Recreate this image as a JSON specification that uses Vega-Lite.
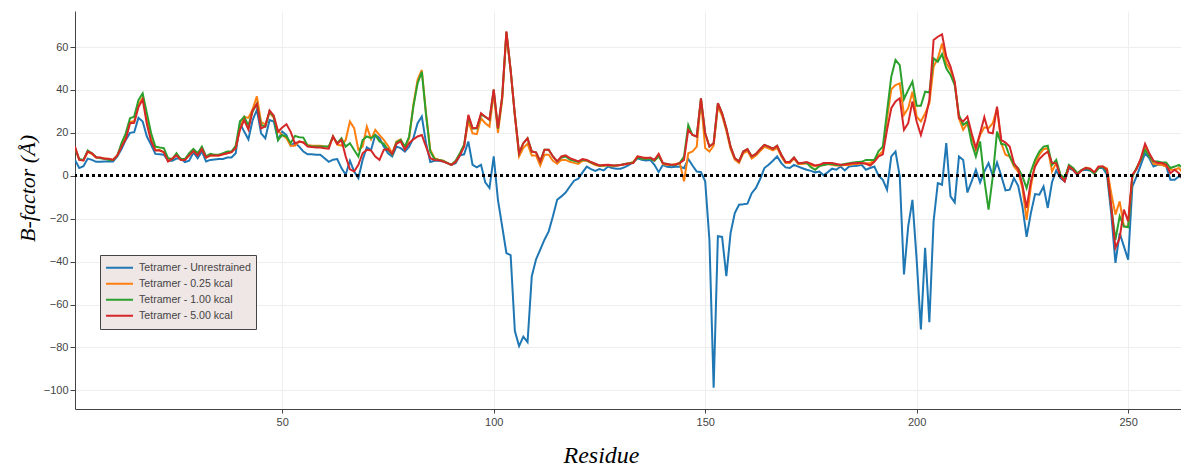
{
"$schema": "https://vega.github.io/schema/vega-lite/v6.json",
"width": 1106, "height": 398,
"autosize": {"type": "none"},
"padding": {"left": 75, "top": 11, "right": 0, "bottom": 57},
"config": {"view": {"stroke": null}, "font": "Liberation Sans"},
"data": {"values": [
{"r":1,"u":7.4,"a":13,"b":12.9,"c":13.6},
{"r":2,"u":3.6,"a":7.5,"b":7.8,"c":7.4},
{"r":3,"u":4.5,"a":7.2,"b":7.4,"c":7.2},
{"r":4,"u":8,"a":11,"b":11.8,"c":11.3},
{"r":5,"u":7.4,"a":10.2,"b":10.5,"c":10.5},
{"r":6,"u":6.5,"a":8.5,"b":8.7,"c":8.5},
{"r":7,"u":6.5,"a":8.3,"b":8.2,"c":8.5},
{"r":8,"u":6.7,"a":8,"b":7.9,"c":7.9},
{"r":9,"u":6.7,"a":7.8,"b":7.4,"c":7.9},
{"r":10,"u":6.7,"a":7.5,"b":7.4,"c":7.4},
{"r":11,"u":9,"a":9.5,"b":9.3,"c":9.5},
{"r":12,"u":12.5,"a":14,"b":15.2,"c":13.5},
{"r":13,"u":16.7,"a":18,"b":19.8,"c":17},
{"r":14,"u":20,"a":25,"b":26.8,"c":24.5},
{"r":15,"u":20.3,"a":25.5,"b":27.6,"c":24.7},
{"r":16,"u":27,"a":33,"b":35.3,"c":32},
{"r":17,"u":25.3,"a":36.5,"b":38.4,"c":35.5},
{"r":18,"u":18.3,"a":27,"b":29.1,"c":24},
{"r":19,"u":14.4,"a":17,"b":19.8,"c":16},
{"r":20,"u":10.2,"a":12,"b":13.6,"c":11.8},
{"r":21,"u":10,"a":12,"b":13.2,"c":11.8},
{"r":22,"u":9.8,"a":11,"b":12.9,"c":11},
{"r":23,"u":7,"a":7,"b":8.2,"c":6.7},
{"r":24,"u":7,"a":8,"b":7.8,"c":8},
{"r":25,"u":8,"a":9.8,"b":10.5,"c":9.5},
{"r":26,"u":8,"a":7.5,"b":7.8,"c":7.4},
{"r":27,"u":6.4,"a":7.5,"b":7.8,"c":7.4},
{"r":28,"u":7,"a":9.5,"b":10.5,"c":9.5},
{"r":29,"u":10.9,"a":11.5,"b":12.5,"c":11.5},
{"r":30,"u":8.2,"a":10,"b":10.5,"c":9.5},
{"r":31,"u":11.3,"a":12.5,"b":13.6,"c":12.5},
{"r":32,"u":6.7,"a":8.5,"b":9,"c":8.5},
{"r":33,"u":7.4,"a":9.5,"b":10.2,"c":9.5},
{"r":34,"u":7.6,"a":9.5,"b":9.8,"c":9.5},
{"r":35,"u":7.8,"a":9.5,"b":9.8,"c":9.5},
{"r":36,"u":7.8,"a":10,"b":10.5,"c":10},
{"r":37,"u":8.5,"a":10.5,"b":11.3,"c":10.5},
{"r":38,"u":8.5,"a":11,"b":11.3,"c":11},
{"r":39,"u":10.5,"a":13,"b":14,"c":13},
{"r":40,"u":24.5,"a":22,"b":25.3,"c":21.5},
{"r":41,"u":20.6,"a":27.5,"b":27.5,"c":26},
{"r":42,"u":17,"a":27,"b":23.5,"c":21.5},
{"r":43,"u":26,"a":31,"b":30,"c":30.5},
{"r":44,"u":30.7,"a":37,"b":33.5,"c":33.5},
{"r":45,"u":19.8,"a":25,"b":23.7,"c":22},
{"r":46,"u":17.5,"a":24,"b":22.9,"c":23},
{"r":47,"u":26,"a":29.5,"b":29.9,"c":30.5},
{"r":48,"u":25.3,"a":27,"b":27.6,"c":28},
{"r":49,"u":16.7,"a":21,"b":16.7,"c":20.5},
{"r":50,"u":20.6,"a":19,"b":19,"c":22.5},
{"r":51,"u":19,"a":17.5,"b":18.3,"c":24},
{"r":52,"u":14,"a":14,"b":15.2,"c":20.5},
{"r":53,"u":15.5,"a":14,"b":18.6,"c":15},
{"r":54,"u":13.6,"a":16,"b":18,"c":16},
{"r":55,"u":11.3,"a":15.5,"b":17.8,"c":15.5},
{"r":56,"u":10,"a":14.4,"b":14,"c":13.6},
{"r":57,"u":10,"a":14,"b":13.6,"c":13.4},
{"r":58,"u":9.8,"a":14,"b":13.6,"c":13.2},
{"r":59,"u":9.8,"a":14,"b":13.6,"c":13.2},
{"r":60,"u":8.2,"a":13.6,"b":13.6,"c":12.8},
{"r":61,"u":6.5,"a":13.5,"b":13.6,"c":12.6},
{"r":62,"u":7.5,"a":18.3,"b":18.3,"c":18.3},
{"r":63,"u":7.8,"a":14.5,"b":15.2,"c":14.9},
{"r":64,"u":3.6,"a":14.1,"b":17.5,"c":16.7},
{"r":65,"u":0.5,"a":16.7,"b":13.6,"c":9},
{"r":66,"u":7,"a":25.3,"b":15.2,"c":3},
{"r":67,"u":2,"a":22.2,"b":12,"c":2},
{"r":68,"u":-1.1,"a":12.1,"b":9,"c":5.1},
{"r":69,"u":7.4,"a":13.6,"b":16.7,"c":10.5},
{"r":70,"u":13.3,"a":22.9,"b":18.3,"c":12.1},
{"r":71,"u":12,"a":17,"b":17.5,"c":11.8},
{"r":72,"u":19,"a":21.4,"b":19,"c":9},
{"r":73,"u":17.5,"a":19,"b":16,"c":7.4},
{"r":74,"u":13.6,"a":16.7,"b":14.9,"c":12.1},
{"r":75,"u":10.5,"a":14,"b":12.1,"c":12.4},
{"r":76,"u":9,"a":10.5,"b":9.8,"c":10.2},
{"r":77,"u":13.6,"a":16,"b":15.5,"c":14.9},
{"r":78,"u":12.9,"a":17,"b":16.7,"c":16},
{"r":79,"u":11.3,"a":12.9,"b":13.6,"c":12.1},
{"r":80,"u":13.6,"a":17.5,"b":18.3,"c":15.2},
{"r":81,"u":17.5,"a":33,"b":32.2,"c":17},
{"r":82,"u":24.5,"a":44.7,"b":43.1,"c":18.3},
{"r":83,"u":27.6,"a":49.3,"b":48.5,"c":19},
{"r":84,"u":15.2,"a":29.1,"b":28.4,"c":13.6},
{"r":85,"u":6.4,"a":12.1,"b":11.3,"c":8.2},
{"r":86,"u":7,"a":8.2,"b":7.8,"c":7.4},
{"r":87,"u":7,"a":7.5,"b":7.4,"c":7.2},
{"r":88,"u":6.7,"a":7,"b":7,"c":6.7},
{"r":89,"u":5.9,"a":6,"b":6,"c":5.9},
{"r":90,"u":5.1,"a":5.1,"b":5.1,"c":5.1},
{"r":91,"u":5.9,"a":6.5,"b":7,"c":6.5},
{"r":92,"u":9.5,"a":10,"b":10.5,"c":9.5},
{"r":93,"u":10,"a":14,"b":14.5,"c":13.5},
{"r":94,"u":16,"a":25.3,"b":27.6,"c":28.4},
{"r":95,"u":5.1,"a":19.8,"b":22,"c":22.2},
{"r":96,"u":3.9,"a":19.4,"b":22,"c":22.4},
{"r":97,"u":5.1,"a":26.8,"b":28.5,"c":29.1},
{"r":98,"u":-3.1,"a":24.5,"b":27.5,"c":27.5},
{"r":99,"u":-5.7,"a":22.9,"b":26,"c":26.2},
{"r":100,"u":9,"a":38.4,"b":40,"c":40.3},
{"r":101,"u":-11.2,"a":20,"b":22,"c":22.2},
{"r":102,"u":-23.6,"a":35.3,"b":36.5,"c":36.9},
{"r":103,"u":-36,"a":66.4,"b":67,"c":67.3},
{"r":104,"u":-37,"a":49,"b":49.3,"c":49.3},
{"r":105,"u":-72.4,"a":28,"b":28.4,"c":28.4},
{"r":106,"u":-79.4,"a":9,"b":10.5,"c":10.5},
{"r":107,"u":-75,"a":13,"b":15.2,"c":15.2},
{"r":108,"u":-77.5,"a":14.9,"b":17.5,"c":17.5},
{"r":109,"u":-46.8,"a":9.5,"b":11.3,"c":11.3},
{"r":110,"u":-39,"a":9.5,"b":10.9,"c":10.9},
{"r":111,"u":-34.4,"a":4.8,"b":6.7,"c":6.7},
{"r":112,"u":-29.8,"a":9.8,"b":12.1,"c":12.1},
{"r":113,"u":-25.9,"a":9.8,"b":12.1,"c":12.1},
{"r":114,"u":-18.9,"a":7,"b":9,"c":9},
{"r":115,"u":-11.2,"a":5.6,"b":6.7,"c":6.7},
{"r":116,"u":-9.6,"a":7.5,"b":8.5,"c":9},
{"r":117,"u":-7.8,"a":7.4,"b":9,"c":9.5},
{"r":118,"u":-5,"a":6.5,"b":7.5,"c":8.2},
{"r":119,"u":-2.3,"a":6,"b":7,"c":7.5},
{"r":120,"u":-1.4,"a":5.5,"b":6.5,"c":6.7},
{"r":121,"u":1.6,"a":7,"b":7.5,"c":7.8},
{"r":122,"u":4.3,"a":7,"b":7.2,"c":7.4},
{"r":123,"u":3.1,"a":6,"b":6.2,"c":6.4},
{"r":124,"u":2.3,"a":5,"b":5.5,"c":5.6},
{"r":125,"u":3.1,"a":4.5,"b":4.8,"c":4.8},
{"r":126,"u":2.5,"a":4.5,"b":4.8,"c":5},
{"r":127,"u":4.3,"a":5,"b":5,"c":5.1},
{"r":128,"u":3.6,"a":4.5,"b":4.8,"c":4.9},
{"r":129,"u":3.3,"a":4.8,"b":4.8,"c":4.8},
{"r":130,"u":3.3,"a":5,"b":5,"c":5},
{"r":131,"u":4,"a":5.5,"b":5.5,"c":5.4},
{"r":132,"u":5.1,"a":5.8,"b":5.8,"c":5.7},
{"r":133,"u":6.4,"a":6.5,"b":6.2,"c":5.9},
{"r":134,"u":8.2,"a":9,"b":8.5,"c":9},
{"r":135,"u":7.5,"a":8,"b":8,"c":8.6},
{"r":136,"u":7.1,"a":8.5,"b":7.8,"c":8.2},
{"r":137,"u":7.4,"a":8,"b":8,"c":8.5},
{"r":138,"u":5.1,"a":7,"b":7,"c":7.4},
{"r":139,"u":1.7,"a":10,"b":9,"c":10.2},
{"r":140,"u":5.1,"a":5.5,"b":5.9,"c":5.9},
{"r":141,"u":4.2,"a":5,"b":5.5,"c":5.5},
{"r":142,"u":4,"a":5,"b":5,"c":5.1},
{"r":143,"u":4.2,"a":5.5,"b":5,"c":5.3},
{"r":144,"u":4.3,"a":6,"b":6,"c":5.9},
{"r":145,"u":3.5,"a":-2.6,"b":9,"c":7.4},
{"r":146,"u":7.8,"a":10.5,"b":23.7,"c":21.4},
{"r":147,"u":4.8,"a":11.3,"b":19,"c":19},
{"r":148,"u":2,"a":13.6,"b":18.3,"c":18.3},
{"r":149,"u":1.7,"a":35.3,"b":36.1,"c":36.1},
{"r":150,"u":-2.6,"a":12.9,"b":19.8,"c":19.8},
{"r":151,"u":-29.8,"a":11.3,"b":13.6,"c":13.6},
{"r":152,"u":-98.8,"a":14,"b":15.2,"c":15.2},
{"r":153,"u":-28.2,"a":32.2,"b":33.8,"c":33.8},
{"r":154,"u":-28.5,"a":28,"b":29.1,"c":29.1},
{"r":155,"u":-46.8,"a":21,"b":22.2,"c":22.2},
{"r":156,"u":-26.7,"a":12.5,"b":13.6,"c":13.6},
{"r":157,"u":-17.4,"a":7.5,"b":8.2,"c":8.2},
{"r":158,"u":-13.5,"a":6,"b":6.7,"c":6.7},
{"r":159,"u":-13.3,"a":10.5,"b":11.3,"c":11.3},
{"r":160,"u":-13,"a":11.5,"b":12.4,"c":12.4},
{"r":161,"u":-8.1,"a":8,"b":9,"c":9},
{"r":162,"u":-5.7,"a":9.5,"b":10.2,"c":10.2},
{"r":163,"u":-1.5,"a":11.5,"b":12.4,"c":12.4},
{"r":164,"u":3.6,"a":13.5,"b":14.4,"c":14.4},
{"r":165,"u":5.1,"a":12.8,"b":13.6,"c":13.6},
{"r":166,"u":7,"a":11.8,"b":12.6,"c":12.6},
{"r":167,"u":9,"a":13,"b":14,"c":14},
{"r":168,"u":5.9,"a":9,"b":9.8,"c":9.8},
{"r":169,"u":3.9,"a":6,"b":6.4,"c":6.4},
{"r":170,"u":3.6,"a":6,"b":6.4,"c":6.4},
{"r":171,"u":5.1,"a":8,"b":8.5,"c":8.5},
{"r":172,"u":4.3,"a":5.5,"b":5.9,"c":5.9},
{"r":173,"u":3.5,"a":5.5,"b":6,"c":6.1},
{"r":174,"u":2.8,"a":5.8,"b":6,"c":6.4},
{"r":175,"u":2.3,"a":5,"b":4,"c":5.6},
{"r":176,"u":1.6,"a":4.5,"b":2.8,"c":4.8},
{"r":177,"u":2,"a":4.8,"b":4.5,"c":5.1},
{"r":178,"u":0.2,"a":5,"b":5,"c":5.9},
{"r":179,"u":1.7,"a":5.5,"b":5.5,"c":5.9},
{"r":180,"u":3.3,"a":5,"b":5.5,"c":5.9},
{"r":181,"u":2.8,"a":4.8,"b":5,"c":5.5},
{"r":182,"u":4.3,"a":4.8,"b":5,"c":5.1},
{"r":183,"u":2.5,"a":5,"b":5.5,"c":5.3},
{"r":184,"u":4.3,"a":5,"b":5.8,"c":5.6},
{"r":185,"u":4.5,"a":5.5,"b":6.2,"c":5.8},
{"r":186,"u":4.7,"a":5.5,"b":6.4,"c":5.9},
{"r":187,"u":5.1,"a":5.8,"b":6.5,"c":5.9},
{"r":188,"u":2.8,"a":5.8,"b":7.4,"c":5.6},
{"r":189,"u":3.6,"a":6,"b":7.4,"c":4.8},
{"r":190,"u":4.3,"a":7,"b":7.4,"c":6.5},
{"r":191,"u":0,"a":9.5,"b":11.5,"c":9},
{"r":192,"u":-1.9,"a":11.5,"b":13.6,"c":10},
{"r":193,"u":-6.5,"a":26.8,"b":30,"c":21.4},
{"r":194,"u":9,"a":40.3,"b":46.2,"c":31.5},
{"r":195,"u":11.3,"a":42.3,"b":54,"c":34.6},
{"r":196,"u":-0.3,"a":43.1,"b":51.6,"c":36.1},
{"r":197,"u":-46,"a":28.4,"b":35.7,"c":21.4},
{"r":198,"u":-23.6,"a":31.5,"b":40,"c":24.5},
{"r":199,"u":-11.2,"a":39.2,"b":43.9,"c":34.6},
{"r":200,"u":-39.1,"a":27.6,"b":32.6,"c":25.3},
{"r":201,"u":-71.6,"a":25.3,"b":32.6,"c":19},
{"r":202,"u":-33.6,"a":29.1,"b":39.2,"c":26},
{"r":203,"u":-68.2,"a":33.8,"b":38.8,"c":35.3},
{"r":204,"u":-21.2,"a":50.9,"b":54.7,"c":63.3},
{"r":205,"u":-3.4,"a":54.7,"b":53.2,"c":64.8},
{"r":206,"u":-4.2,"a":61.7,"b":56.7,"c":65.9},
{"r":207,"u":15.2,"a":52.4,"b":50.1,"c":55.5},
{"r":208,"u":-9.6,"a":49.3,"b":47,"c":50.9},
{"r":209,"u":-12.4,"a":43.4,"b":42.3,"c":43.9},
{"r":210,"u":9,"a":26.8,"b":28.4,"c":26.8},
{"r":211,"u":7.4,"a":21.4,"b":23.7,"c":25.3},
{"r":212,"u":-7.8,"a":24.5,"b":25.3,"c":27.6},
{"r":213,"u":-2.6,"a":18.3,"b":15.2,"c":19.8},
{"r":214,"u":2.8,"a":12.1,"b":9,"c":12.9},
{"r":215,"u":-3.1,"a":19,"b":16,"c":19.8},
{"r":216,"u":2,"a":22.6,"b":-1.9,"c":27.3},
{"r":217,"u":5.9,"a":22.2,"b":-15.8,"c":20.2},
{"r":218,"u":0,"a":24.5,"b":-0.3,"c":19.8},
{"r":219,"u":6.2,"a":31.5,"b":20.6,"c":32.2},
{"r":220,"u":0,"a":15.2,"b":14.9,"c":16.7},
{"r":221,"u":-6.8,"a":9.8,"b":14.4,"c":15.5},
{"r":222,"u":-6.5,"a":9,"b":9,"c":13.6},
{"r":223,"u":-1.1,"a":4.3,"b":5.1,"c":5.9},
{"r":224,"u":-4.7,"a":2,"b":3.6,"c":3.1},
{"r":225,"u":-14.3,"a":-5.7,"b":-0.3,"c":-4.2},
{"r":226,"u":-28.5,"a":-20.5,"b":-5.7,"c":-15},
{"r":227,"u":-17.4,"a":-5,"b":2,"c":-2.6},
{"r":228,"u":-8.5,"a":5.9,"b":7.4,"c":4.3},
{"r":229,"u":-8.8,"a":9.8,"b":11.3,"c":7.8},
{"r":230,"u":-5,"a":12.4,"b":13.6,"c":9.8},
{"r":231,"u":-15,"a":12.9,"b":14,"c":11.3},
{"r":232,"u":-3,"a":2,"b":5,"c":6},
{"r":233,"u":2.5,"a":5.9,"b":7.4,"c":5.9},
{"r":234,"u":-1.1,"a":0,"b":0.5,"c":-0.3},
{"r":235,"u":-2.6,"a":-1.5,"b":-1.1,"c":-2.6},
{"r":236,"u":3.6,"a":4.5,"b":5.1,"c":4.3},
{"r":237,"u":2.5,"a":3,"b":3.6,"c":2.8},
{"r":238,"u":0.5,"a":1,"b":1.2,"c":0.5},
{"r":239,"u":2.5,"a":2.6,"b":2.8,"c":2.5},
{"r":240,"u":2.8,"a":3.8,"b":3.6,"c":3.6},
{"r":241,"u":2.5,"a":3.3,"b":2.8,"c":3.3},
{"r":242,"u":1.2,"a":1.4,"b":0.9,"c":1.6},
{"r":243,"u":3.6,"a":4,"b":3.6,"c":4.3},
{"r":244,"u":3.6,"a":4.3,"b":4.3,"c":4.3},
{"r":245,"u":0.5,"a":3.4,"b":2,"c":2.8},
{"r":246,"u":-17.4,"a":-8.1,"b":-14.3,"c":-14.3},
{"r":247,"u":-40.6,"a":-18.1,"b":-29.8,"c":-33.6},
{"r":248,"u":-26.7,"a":-11.9,"b":-18.9,"c":-29},
{"r":249,"u":-32.9,"a":-23.6,"b":-23.6,"c":-15.8},
{"r":250,"u":-39.1,"a":-23.6,"b":-24,"c":-21.2},
{"r":251,"u":-5,"a":-0.3,"b":-0.3,"c":0.5},
{"r":252,"u":-0.3,"a":3.6,"b":3.6,"c":3.1},
{"r":253,"u":5.1,"a":7.4,"b":7.4,"c":8.2},
{"r":254,"u":10.5,"a":13.6,"b":12.1,"c":14.9},
{"r":255,"u":8.2,"a":9.3,"b":9,"c":10.5},
{"r":256,"u":4.3,"a":5.6,"b":6.7,"c":7},
{"r":257,"u":5.1,"a":5.3,"b":6.7,"c":5.9},
{"r":258,"u":5.1,"a":5.1,"b":6.2,"c":5.9},
{"r":259,"u":4.3,"a":4.3,"b":6.2,"c":5.1},
{"r":260,"u":-1.9,"a":2.8,"b":3.6,"c":1.2},
{"r":261,"u":-1.9,"a":2.8,"b":4.3,"c":2.8},
{"r":262,"u":-0.3,"a":3.6,"b":5.1,"c":1.2},
{"r":263,"u":-1.1,"a":1.2,"b":3.6,"c":-1.9}
]},
"layer": [
{
"transform": [{"fold": ["u", "a", "b", "c"], "as": ["series", "value"]}],
"mark": {"type": "line", "strokeWidth": 2, "clip": true},
"encoding": {
"x": {"field": "r", "type": "quantitative",
 "scale": {"domain": [1, 262.5], "nice": false, "zero": false},
 "axis": {"values": [50, 100, 150, 200, 250], "title": "Residue",
  "titleFont": "Liberation Serif", "titleFontStyle": "italic", "titleFontWeight": "normal", "titleFontSize": 24, "titleColor": "#000",
  "titleX": 526, "titleY": 53, "titleAlign": "center", "titleBaseline": "alphabetic",
  "labelFont": "Liberation Sans", "labelFontSize": 11, "labelColor": "#444", "labelPadding": 3,
  "tickSize": 4, "tickColor": "#444", "domainColor": "#444", "domainWidth": 1,
  "grid": true, "gridColor": "#eeeeee"}},
"y": {"field": "value", "type": "quantitative",
 "scale": {"domain": [-108.7, 76.8], "nice": false, "zero": false},
 "axis": {"values": [-100, -80, -60, -40, -20, 0, 20, 40, 60], "title": "B-factor (Å)",
  "titleFont": "Liberation Serif", "titleFontStyle": "italic", "titleFontWeight": "normal", "titleFontSize": 22, "titleColor": "#000",
  "titleAngle": -90, "titleX": -41, "titleY": 177, "titleAlign": "center", "titleBaseline": "alphabetic",
  "labelFont": "Liberation Sans", "labelFontSize": 11, "labelColor": "#444", "labelPadding": 2,
  "tickSize": 5, "tickColor": "#444", "domainColor": "#444", "domainWidth": 1,
  "grid": true, "gridColor": "#eeeeee"}},
"color": {"field": "series", "type": "nominal",
 "scale": {"domain": ["u", "a", "b", "c"], "range": ["#1f77b4", "#ff7f0e", "#2ca02c", "#d62728"]},
 "legend": {"orient": "none", "legendX": 25, "legendY": 244, "title": null,
  "symbolType": "stroke", "symbolSize": 729, "symbolStrokeWidth": 2,
  "clipHeight": 15.3, "rowPadding": 0,
  "labelFont": "Liberation Sans", "labelFontSize": 10.6, "labelColor": "#444", "labelOffset": 5, "labelLimit": 300,
  "padding": 5, "fillColor": "#efe6e6", "strokeColor": "#444",
  "labelExpr": "{'u': 'Tetramer - Unrestrained', 'a': 'Tetramer - 0.25 kcal', 'b': 'Tetramer - 1.00 kcal', 'c': 'Tetramer - 5.00 kcal'}[datum.label]"}}
}
},
{
"mark": {"type": "rule", "strokeDash": [3, 3], "strokeWidth": 2, "color": "#000"},
"encoding": {"y": {"datum": 0}}
}
]
}
